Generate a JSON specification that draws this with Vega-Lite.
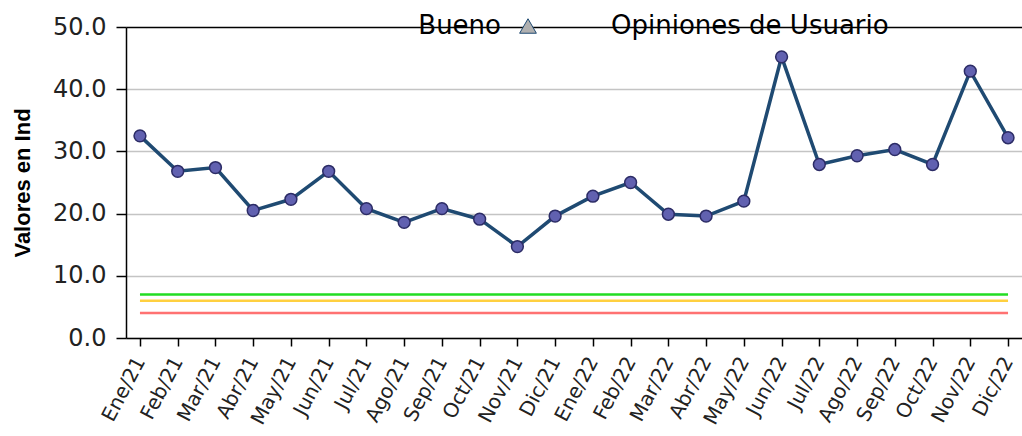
{
  "$schema": "https://vega.github.io/schema/vega-lite/v6.json",
  "width": 1022,
  "height": 436,
  "autosize": {"type": "fit", "contains": "padding"},
  "padding": {"left": 11, "right": 0, "top": 15, "bottom": 8},
  "background": "white",
  "config": {
    "font": "DejaVu Sans",
    "view": {"stroke": null},
    "axis": {"domainColor": "#000", "domainWidth": 1.5, "tickColor": "#000", "tickWidth": 1.5}
  },
  "datasets": {
    "serie": [
      {"mes": "Ene/21", "valor": 32.5},
      {"mes": "Feb/21", "valor": 26.8},
      {"mes": "Mar/21", "valor": 27.4},
      {"mes": "Abr/21", "valor": 20.5},
      {"mes": "May/21", "valor": 22.3},
      {"mes": "Jun/21", "valor": 26.8},
      {"mes": "Jul/21", "valor": 20.8},
      {"mes": "Ago/21", "valor": 18.6},
      {"mes": "Sep/21", "valor": 20.8},
      {"mes": "Oct/21", "valor": 19.1},
      {"mes": "Nov/21", "valor": 14.7},
      {"mes": "Dic/21", "valor": 19.6},
      {"mes": "Ene/22", "valor": 22.8},
      {"mes": "Feb/22", "valor": 25.0},
      {"mes": "Mar/22", "valor": 19.9},
      {"mes": "Abr/22", "valor": 19.6},
      {"mes": "May/22", "valor": 22.0},
      {"mes": "Jun/22", "valor": 45.2},
      {"mes": "Jul/22", "valor": 27.9},
      {"mes": "Ago/22", "valor": 29.3},
      {"mes": "Sep/22", "valor": 30.3},
      {"mes": "Oct/22", "valor": 27.9},
      {"mes": "Nov/22", "valor": 42.9},
      {"mes": "Dic/22", "valor": 32.2}
    ],
    "limites": [
      {"mes": "Ene/21", "valor": 7, "limite": "verde"},
      {"mes": "Dic/22", "valor": 7, "limite": "verde"},
      {"mes": "Ene/21", "valor": 6, "limite": "amarillo"},
      {"mes": "Dic/22", "valor": 6, "limite": "amarillo"},
      {"mes": "Ene/21", "valor": 4, "limite": "rojo"},
      {"mes": "Dic/22", "valor": 4, "limite": "rojo"}
    ]
  },
  "encoding": {
    "x": {
      "field": "mes",
      "type": "ordinal",
      "sort": ["Ene/21", "Feb/21", "Mar/21", "Abr/21", "May/21", "Jun/21", "Jul/21", "Ago/21", "Sep/21", "Oct/21", "Nov/21", "Dic/21", "Ene/22", "Feb/22", "Mar/22", "Abr/22", "May/22", "Jun/22", "Jul/22", "Ago/22", "Sep/22", "Oct/22", "Nov/22", "Dic/22"],
      "scale": {"type": "point", "padding": 0.37},
      "axis": {
        "title": null,
        "labelAngle": -62,
        "labelFontSize": 20,
        "labelColor": "#222",
        "labelPadding": 12,
        "tickSize": 8,
        "grid": false
      }
    },
    "y": {
      "field": "valor",
      "type": "quantitative",
      "scale": {"domain": [0, 50], "nice": false},
      "axis": {
        "title": "Valores en Ind",
        "titleFont": "Liberation Sans",
        "titleFontSize": 22,
        "titleFontWeight": "bold",
        "titleColor": "#000",
        "titlePadding": 18,
        "values": [0, 10, 20, 30, 40, 50],
        "format": ".1f",
        "labelFontSize": 24,
        "labelColor": "#222",
        "labelPadding": 10,
        "tickSize": 10,
        "grid": true,
        "gridColor": {"condition": {"test": "datum.value === 50", "value": "#000"}, "value": "#c4c4c4"},
        "gridWidth": {"condition": {"test": "datum.value === 50", "value": 1.5}, "value": 1.3}
      }
    }
  },
  "layer": [
    {
      "data": {"name": "limites"},
      "mark": {"type": "line", "strokeWidth": 2.5},
      "encoding": {
        "detail": {"field": "limite"},
        "color": {
          "field": "limite",
          "type": "nominal",
          "scale": {"domain": ["verde", "amarillo", "rojo"], "range": ["#22dd22", "#ffd040", "#ff7272"]},
          "legend": null
        }
      }
    },
    {
      "data": {"name": "serie"},
      "mark": {"type": "line", "strokeWidth": 3.5},
      "encoding": {
        "stroke": {
          "datum": "Bueno",
          "type": "nominal",
          "scale": {"range": ["#1f4a72"]},
          "legend": {
            "orient": "none",
            "legendX": 389,
            "legendY": -14,
            "direction": "horizontal",
            "title": "Opiniones de Usuario",
            "titleOrient": "right",
            "titleFontSize": 26,
            "titleFontWeight": "normal",
            "titleColor": "#000",
            "titleLimit": 500,
            "titlePadding": 73,
            "labelFontSize": 26,
            "labelColor": "#000",
            "labelLimit": 200,
            "labelAlign": "right",
            "labelOffset": -40,
            "symbolType": "triangle-up",
            "symbolSize": 280,
            "symbolFillColor": "#b0b0b0",
            "symbolStrokeColor": "#999",
            "symbolStrokeWidth": 1
          }
        }
      }
    },
    {
      "data": {"name": "serie"},
      "mark": {"type": "point", "filled": true, "size": 140, "fill": "#6161b0", "stroke": "#2c2c66", "strokeWidth": 1.5, "opacity": 1}
    }
  ]
}
